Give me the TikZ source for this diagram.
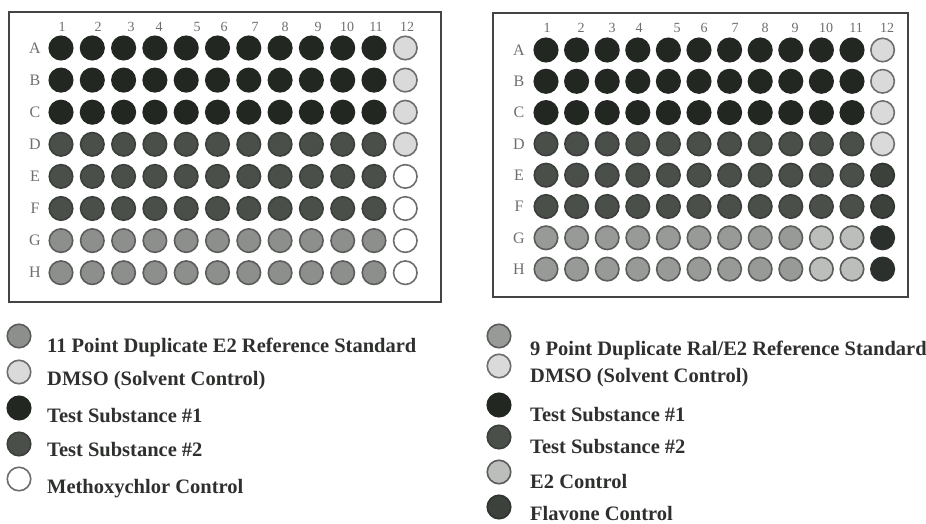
\documentclass[tikz,border=0pt]{standalone}
\usepackage{fontspec}
\setmainfont{Liberation Serif}
\usepackage{xcolor}
\definecolor{tsonec}{HTML}{222722}
\definecolor{tstwoc}{HTML}{4A4F4A}
\definecolor{refc}{HTML}{8C8F8C}
\definecolor{ralc}{HTML}{979A97}
\definecolor{etwoc}{HTML}{BCBEBC}
\definecolor{dmsoc}{HTML}{DADADA}
\definecolor{flavc}{HTML}{3C413C}
\definecolor{flavdkc}{HTML}{2C302C}
\definecolor{ringc}{HTML}{5A5D5A}
\definecolor{labc}{HTML}{6E6E6E}
\definecolor{keyc}{HTML}{2E302E}
\definecolor{platec}{HTML}{444444}

\begin{document}
\begin{tikzpicture}[x=1pt,y=-1pt,
  well/.style={circle,inner sep=0pt,minimum size=23.5pt,line width=1.6pt},
  tsone/.style={well,fill=tsonec,draw=tsonec},
  tstwo/.style={well,fill=tstwoc,draw=tstwoc!80!black},
  refstd/.style={well,fill=refc,draw=ringc},
  ralstd/.style={well,fill=ralc,draw=ringc},
  etwo/.style={well,fill=etwoc,draw=ringc},
  dmso/.style={well,fill=dmsoc,draw=labc},
  metho/.style={well,fill=white,draw=labc},
  flav/.style={well,fill=flavc,draw=flavc!80!black},
  flavdk/.style={well,fill=flavdkc,draw=flavdkc},
  plate/.style={draw=platec,line width=2.2pt},
  rowlab/.style={text=labc,font=\fontsize{16}{16}\selectfont},
  collab/.style={text=labc,font=\fontsize{14}{14}\selectfont},
  keytext/.style={anchor=base west,inner sep=0pt,text=keyc,font=\bfseries\fontsize{20.5}{20.5}\selectfont}]
\useasboundingbox (0,0) rectangle (926,524);

\draw[plate] (9,12) rectangle (441,302);
\foreach \c/\nx in {1/62,2/98,3/131,4/159,5/197,6/224,7/255,8/285,9/318,10/347,11/376,12/407}
  \node[collab] (L-n\c) at (\nx,27) {\c};
\foreach \row/\lab/\kind/\last in {1/A/tsone/dmso,2/B/tsone/dmso,3/C/tsone/dmso,4/D/tstwo/dmso,5/E/tstwo/metho,6/F/tstwo/metho,7/G/refstd/metho,8/H/refstd/metho}{
  \node[rowlab] (L-\lab) at (35,{48+(\row-1)*32.1}) {\lab};
  \foreach \c in {1,...,11}
    \node[\kind] (L-\lab\c) at ({61+(\c-1)*31.3},{48+(\row-1)*32.1}) {};
  \node[\last] (L-\lab12) at ({61+11*31.3},{48+(\row-1)*32.1}) {};
}

\draw[plate] (493,13) rectangle (908,297);
\foreach \c/\nx in {1/547,2/581,3/612,4/639,5/677,6/704,7/735,8/765,9/795,10/826,11/856,12/887}
  \node[collab] (R-n\c) at (\nx,28) {\c};
\foreach \row/\lab/\kind/\mid/\last in {1/A/tsone/tsone/dmso,2/B/tsone/tsone/dmso,3/C/tsone/tsone/dmso,4/D/tstwo/tstwo/dmso,5/E/tstwo/tstwo/flav,6/F/tstwo/tstwo/flav,7/G/ralstd/etwo/flavdk,8/H/ralstd/etwo/flavdk}{
  \node[rowlab] (R-\lab) at (519,{50+(\row-1)*31.3}) {\lab};
  \foreach \c in {1,...,9}
    \node[\kind] (R-\lab\c) at ({546+(\c-1)*30.6},{50+(\row-1)*31.3}) {};
  \foreach \c in {10,11}
    \node[\mid] (R-\lab\c) at ({546+(\c-1)*30.6},{50+(\row-1)*31.3}) {};
  \node[\last] (R-\lab12) at ({546+11*30.6},{50+(\row-1)*31.3}) {};
}

\foreach \kind/\ky/\ty/\txt in {refstd/336/352/11 Point Duplicate E2 Reference Standard,
    dmso/372/385/DMSO (Solvent Control),tsone/408/422/Test Substance \#1,
    tstwo/444/456/Test Substance \#2,metho/479/493/Methoxychlor Control}{
  \node[\kind] (Lk-\ky) at (19,\ky) {};
  \node[keytext] (Lt-\ky) at (47,\ty) {\txt};
}
\foreach \kind/\ky/\ty/\txt in {ralstd/336/355/{9 Point Duplicate Ral/E2 Reference Standard},
    dmso/366/382/DMSO (Solvent Control),tsone/405/421/Test Substance \#1,
    tstwo/437/453/Test Substance \#2,etwo/472/488/E2 Control,flav/507/520/Flavone Control}{
  \node[\kind] (Rk-\ky) at (499,\ky) {};
  \node[keytext] (Rt-\ky) at (530,\ty) {\txt};
}
\end{tikzpicture}
\end{document}
